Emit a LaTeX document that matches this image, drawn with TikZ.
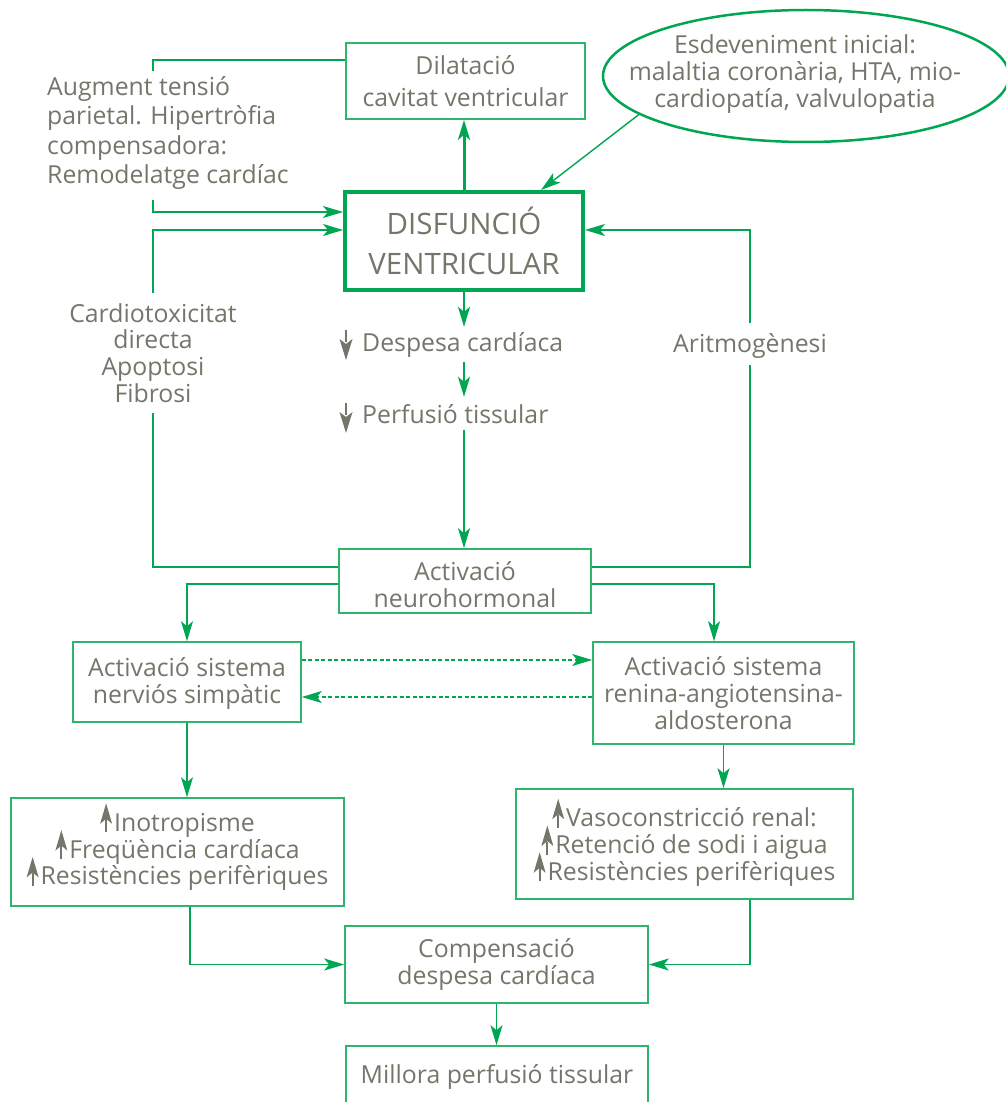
\documentclass[tikz,border=0pt]{standalone}
\usepackage{fontspec}
\setmainfont{Open Sans}
\usetikzlibrary{arrows.meta,calc,shapes.geometric}
\definecolor{grn}{HTML}{00A651}
\definecolor{boxgrn}{HTML}{2EB56C}
\definecolor{txt}{HTML}{75756A}
% small upward arrow set before a line of text
\newcommand{\upglyph}{\smash{\tikz[baseline=0pt,x=1pt,y=1pt]{%
  \fill[txt] (-1,-1) rectangle (1,12);
  \fill[txt] (0,28) -- (6,7.5) -- (0,12.5) -- (-6,7.5) -- cycle;}}\hspace{2pt}}
\tikzset{
  downglyph/.pic={
    \fill[txt] (-1,0) rectangle (1,12);
    \fill[txt] (0,30) -- (6.5,9) -- (0,14) -- (-6.5,9) -- cycle;
  }
}
\begin{document}
\begin{tikzpicture}[x=1pt,y=-1pt,
  font=\fontsize{24.8}{26.8}\selectfont,
  every node/.style={text=txt},
  box/.style={draw=boxgrn,line width=1.6pt,inner sep=0pt,align=center},
  lbl/.style={inner sep=0pt,align=center},
  tip/.style={-{Stealth[length=20pt,width=12pt,inset=5pt]}},
  flow/.style={draw=grn,line width=1.4pt,tip},
  link/.style={draw=grn,line width=1.4pt},
  dflow/.style={draw=grn,line width=1.2pt,dash pattern=on 4pt off 2.5pt,
    -{Stealth[length=20pt,width=12pt,inset=5pt]}},
]
\useasboundingbox (0,0) rectangle (1006,1102);
\clip (0,0) rectangle (1006,1102);

% levels used by the elbow connectors
\coordinate (y60) at (0,60);
\coordinate (y212) at (0,212);
\coordinate (y230) at (0,230);
\coordinate (y567) at (0,567);
\coordinate (y584) at (0,584);
\coordinate (y660) at (0,660);
\coordinate (y697) at (0,697);

% boxes
\node[box,minimum width=239pt,minimum height=76pt] (dil) at (465.5,81)
  {Dilatació\\[5pt]cavitat ventricular};
\node[box,draw=grn,line width=4pt,minimum width=238pt,minimum height=98pt,
  font=\fontsize{29.5}{40}\selectfont] (disf) at (464,241) {DISFUNCIÓ\\VENTRICULAR};
\node[draw=grn,line width=2.5pt,ellipse,minimum width=406pt,minimum height=132pt,
  inner sep=0pt] (ell) at (806,76) {};
\node[lbl] (ellt) at (795,74)
  {Esdeveniment inicial:\\malaltia coronària, HTA, mio-\\cardiopatía, valvulopatia};

\node[lbl,align=left,anchor=west,font=\fontsize{24.8}{29.3}\selectfont] (aug) at (47,133)
  {Augment tensió\\parietal. Hipertròfia\\compensadora:\\Remodelatge cardíac};
\node[lbl] (card) at (153,353) {Cardiotoxicitat\\directa\\Apoptosi\\Fibrosi};
\node[lbl,anchor=base] (arit) at (750,352) {Aritmogènesi};

\node[lbl,anchor=base west,inner ysep=5pt] (desp) at (362,351) {Despesa cardíaca};
\node[lbl,anchor=base west,inner ysep=7pt] (perf) at (362,423) {Perfusió tissular};
\pic at (346,330) {downglyph};
\pic at (346,403) {downglyph};

\node[box,minimum width=252pt,minimum height=64pt] (neuro) at (465,581)
  {\rule{0pt}{27pt}Activació\\neurohormonal};
\node[box,minimum width=228pt,minimum height=80pt] (nerv) at (187,682)
  {\rule{0pt}{22pt}Activació sistema\\nerviós simpàtic};
\node[box,minimum width=261pt,minimum height=102pt] (raa) at (723.5,693)
  {Activació sistema\\renina-angiotensina-\\aldosterona};
\node[box,minimum width=333pt,minimum height=108pt] (ino) at (177.5,852)
  {\upglyph Inotropisme\\\upglyph Freqüència cardíaca\\\upglyph Resistències perifèriques};
\node[box,minimum width=337pt,minimum height=110pt] (vaso) at (684.5,844)
  {\rule{0pt}{25pt}\upglyph Vasoconstricció renal:\\\upglyph Retenció de sodi i aigua\\\upglyph Resistències perifèriques};
\node[box,minimum width=303pt,minimum height=77pt] (comp) at (496.5,964.5)
  {Compensació\\despesa cardíaca};
\node[box,minimum width=302pt,minimum height=68pt] (mill) at (497,1080) {};
\node[lbl,anchor=base] (millt) at (497,1083) {Millora perfusió tissular};

% free ends where lines stop short of the side labels
\coordinate (augtop) at (153,71);
\coordinate (augbot) at (153,200);
\coordinate (cardtop) at (153,293);
\coordinate (cardbot) at (153,413);
\coordinate (arittop) at (750,323);
\coordinate (aritbot) at (750,365);

% connectors
\draw[flow,line width=3pt] (disf.north) -- (disf.north |- dil.south);
\draw[flow] (ell.193.7) -- ($(disf.north)+(77,0)$);
\draw[link] (dil.west |- y60) -| (augtop);
\draw[flow] (augbot) |- (disf.west |- y212);
\draw[flow] (cardtop) |- (disf.west |- y230);
\draw[link] (neuro.west |- y567) -| (cardbot);
\draw[flow] (arittop) |- (disf.east |- y230);
\draw[link] (neuro.east |- y567) -| (aritbot);

\draw[flow] (disf.south) -- (disf.south |- desp.north);
\draw[flow] (desp.south -| disf.south) -- (disf.south |- perf.north);
\draw[flow] (perf.south -| disf.south) -- (disf.south |- neuro.north);

\draw[flow] (neuro.west |- y584) -| (nerv.north);
\draw[flow] (neuro.east |- y584) -| ($(raa.north)+(-9.5,0)$);
\draw[dflow] (nerv.east |- y660) -- (raa.west |- y660);
\draw[dflow] (raa.west |- y697) -- (nerv.east |- y697);
\draw[flow] (nerv.south) -- (nerv.south |- ino.north);
\draw[flow] (raa.south) -- (raa.south |- vaso.north);
\draw[flow] ($(ino.south)+(12.5,0)$) |- (comp.west);
\draw[flow] ($(vaso.south)+(65.5,0)$) |- (comp.east);
\draw[flow] (comp.south) -- (comp.south |- mill.north);
\end{tikzpicture}
\end{document}
